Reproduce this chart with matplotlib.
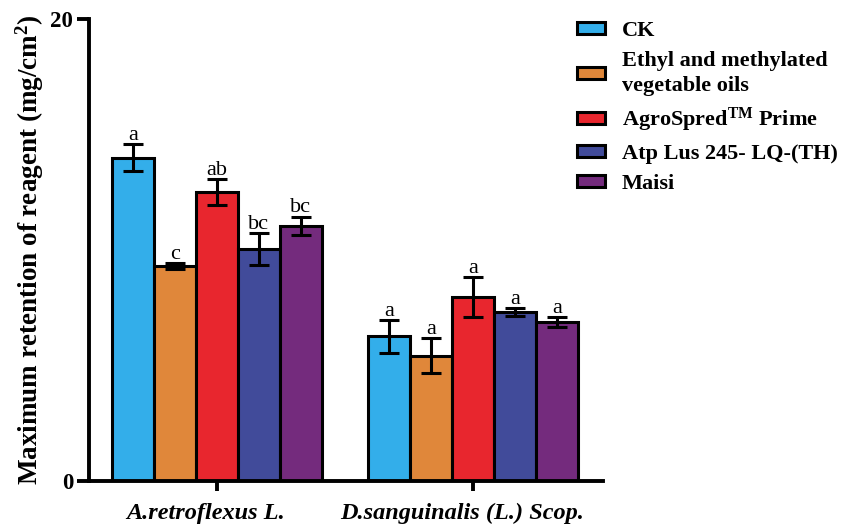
import matplotlib
matplotlib.use("Agg")
import matplotlib.pyplot as plt
import numpy as np
from matplotlib.patches import Patch

plt.rcParams['font.family'] = 'Liberation Serif'
plt.rcParams['mathtext.fontset'] = 'custom'
plt.rcParams['mathtext.rm'] = 'Liberation Serif:bold'
plt.rcParams['mathtext.bf'] = 'Liberation Serif:bold'
plt.rcParams['mathtext.it'] = 'Liberation Serif:bold:italic'

groups = ["A.retroflexus L.", "D.sanguinalis (L.) Scop."]
series = ["CK", "Ethyl and methylated\nvegetable oils", r"AgroSpred$^{\mathrm{TM}}$ Prime",
          "Atp Lus 245- LQ-(TH)", "Maisi"]
colors = ["#33AEEA", "#E0873A", "#E8262E", "#414B9A", "#742B7D"]
values = [[14.0, 6.26], [9.32, 5.42], [12.5, 7.97], [10.04, 7.30], [11.05, 6.87]]
errors = [[0.6, 0.7], [0.13, 0.76], [0.57, 0.86], [0.71, 0.17], [0.4, 0.22]]
letters = [["a", "a"], ["c", "a"], ["ab", "a"], ["bc", "a"], ["bc", "a"]]
yticks = [0, 20]

fig = plt.figure(figsize=(8.44, 5.25), dpi=100)
ax = fig.add_axes([89/844, 1-481/525, (603-89)/844, (481-19)/525])

w = 0.164
x = np.arange(len(groups))
for i, (s, c) in enumerate(zip(series, colors)):
    pos = x + (i - 2) * w
    ax.bar(pos, values[i], width=w, color=c, edgecolor='black', linewidth=2.2, zorder=2)
    ax.errorbar(pos, values[i], yerr=errors[i], fmt='none', ecolor='black',
                elinewidth=2.2, capsize=7.5, capthick=2.2, zorder=3)
    for j in range(len(groups)):
        ax.annotate(letters[i][j], (pos[j], values[i][j] + errors[i][j]),
                    xytext=(0, 3), textcoords='offset points',
                    ha='center', va='baseline', fontsize=16)

ax.set_xlim(-0.5, -0.5 + (603 - 89) / 256.0)
ax.set_ylim(0, 20)
ax.set_yticks(yticks)
ax.set_yticklabels([str(t) for t in yticks], fontsize=16.5, fontweight='bold')
# major ticks at group centres (no labels), labels on minor ticks slightly to the left
ax.set_xticks(x)
ax.set_xticklabels([])
label_shift = 11 / 256.0
ax.set_xticks(x - label_shift, minor=True)
ax.set_xticklabels(groups, minor=True, fontsize=17.5, fontweight='bold', fontstyle='italic')
ax.tick_params(axis='both', which='major', width=2.8, length=8.5)
ax.tick_params(axis='x', which='major', length=7)
ax.tick_params(axis='x', which='minor', length=0, pad=16)
ax.tick_params(axis='y', pad=3)
for sp in ['top', 'right']:
    ax.spines[sp].set_visible(False)
for sp in ['left', 'bottom']:
    ax.spines[sp].set_linewidth(2.8)
ax.set_ylabel(r"Maximum retention of reagent (mg/cm$^{2}$)", fontsize=19.5, fontweight='bold', labelpad=3)

handles = [Patch(facecolor=c, edgecolor='black', linewidth=2.2) for c in colors]
leg = fig.legend(handles, series, loc='upper left', bbox_to_anchor=(568/844, 1-12/525),
                 frameon=False, prop={'weight': 'bold', 'size': 16}, borderaxespad=0,
                 handlelength=1.26, handleheight=0.45, labelspacing=0.45, handletextpad=0.77)
for t in leg.get_texts():
    t.set_linespacing(1.35)

fig.savefig("out.png", dpi=100)
